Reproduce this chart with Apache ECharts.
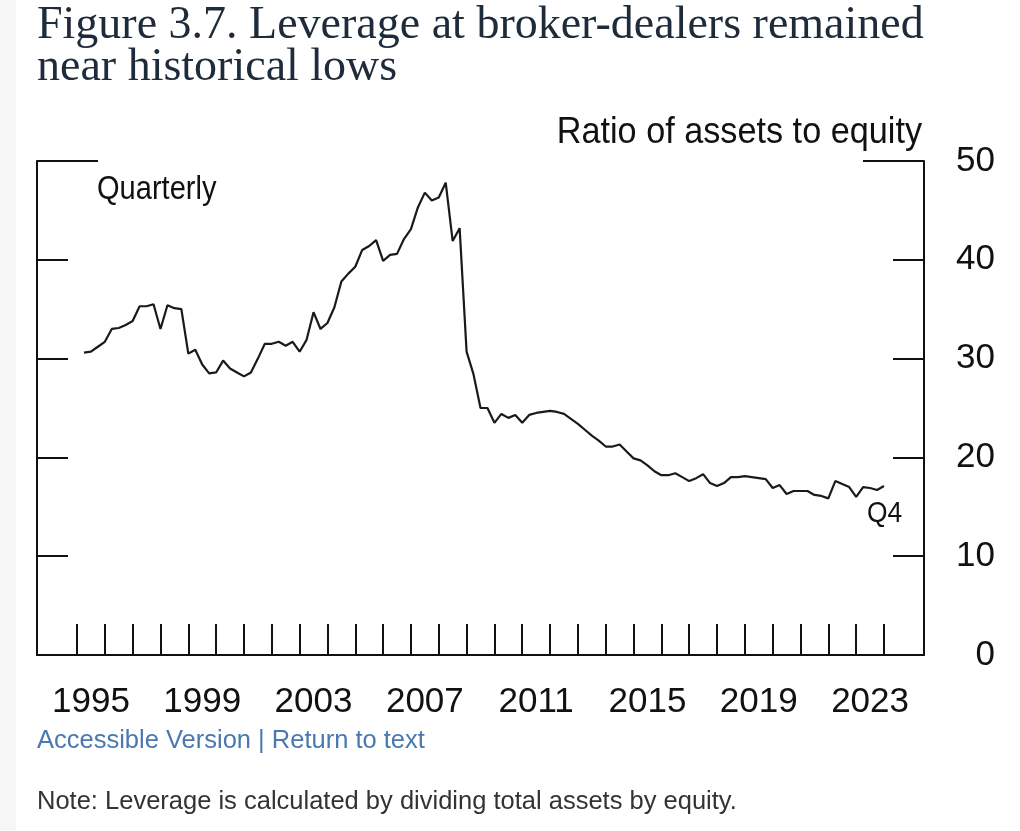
<!DOCTYPE html>
<html>
<head>
<meta charset="utf-8">
<script src="https://cdn.jsdelivr.net/npm/echarts@6/dist/echarts.min.js"></script>
<style>
html,body{margin:0;padding:0;background:#fff;}
#chart{width:1020px;height:831px;}
</style>
</head>
<body>
<div id="chart"></div>
<script>
// ---- data ----
const titleLines = ['Figure 3.7. Leverage at broker-dealers remained', 'near historical lows'];
const unitLabel = 'Ratio of assets to equity';
const freqLabel = 'Quarterly';
const endLabel = 'Q4';
const linksText = 'Accessible Version | Return to text';
const noteText = 'Note: Leverage is calculated by dividing total assets by equity.';

const firstYear = 1995;
const lastYear = 2023;
// quarterly leverage ratio, 1995 Q1 .. 2023 Q4
const leverage = [
  30.6, 30.7, 31.2, 31.7,   // 1995
  33.0, 33.1, 33.4, 33.8,   // 1996
  35.3, 35.3, 35.5, 33.0,   // 1997
  35.4, 35.1, 35.0, 30.5,   // 1998
  30.9, 29.4, 28.5, 28.6,   // 1999
  29.8, 29.0, 28.6, 28.2,   // 2000
  28.6, 30.0, 31.5, 31.5,   // 2001
  31.7, 31.3, 31.7, 30.7,   // 2002
  31.9, 34.7, 33.0, 33.6,   // 2003
  35.2, 37.8, 38.6, 39.3,   // 2004
  41.0, 41.4, 42.0, 39.9,   // 2005
  40.5, 40.6, 42.1, 43.1,   // 2006
  45.3, 46.8, 46.0, 46.3,   // 2007
  47.8, 41.9, 43.2, 30.7,   // 2008
  28.4, 25.0, 25.0, 23.5,   // 2009
  24.4, 24.0, 24.3, 23.5,   // 2010
  24.3, 24.5, 24.6, 24.7,   // 2011
  24.6, 24.4, 23.9, 23.4,   // 2012
  22.8, 22.2, 21.7, 21.1,   // 2013
  21.1, 21.3, 20.6, 19.9,   // 2014
  19.7, 19.2, 18.6, 18.2,   // 2015
  18.2, 18.4, 18.0, 17.6,   // 2016
  17.9, 18.3, 17.4, 17.1,   // 2017
  17.4, 18.0, 18.0, 18.1,   // 2018
  18.0, 17.9, 17.8, 16.9,   // 2019
  17.2, 16.3, 16.6, 16.6,   // 2020
  16.6, 16.2, 16.1, 15.85,  // 2021
  17.6, 17.3, 17.0, 16.0,   // 2022
  17.0, 16.9, 16.7, 17.1    // 2023
];
const yearTickValues = [1995,1996,1997,1998,1999,2000,2001,2002,2003,2004,2005,2006,2007,2008,2009,2010,2011,2012,2013,2014,2015,2016,2017,2018,2019,2020,2021,2022,2023,2024];
const yearLabels = ['1995','1999','2003','2007','2011','2015','2019','2023'];
const yTickLabels = ['0','10','20','30','40','50'];

// quarter-end dates
const quarterDates = [];
for (let y = firstYear; y <= lastYear; y++) {
  for (let q = 1; q <= 4; q++) quarterDates.push(y + q / 4);
}
const seriesData = leverage.map((v, i) => [quarterDates[i], v]);
const labelPositions = yearLabels.map(s => Number(s) + 0.5);

const chart = echarts.init(document.getElementById('chart'), null, {renderer: 'canvas'});
const INK = '#111';
const sans = '"Liberation Sans", Arial, sans-serif';

const yBase = {
  type: 'value', min: 0, max: 50, interval: 10,
  splitLine: {show: false},
  axisLine: {show: true, lineStyle: {color: INK, width: 2}},
  axisTick: {show: true, inside: true, length: 31, lineStyle: {color: INK, width: 2}},
  axisLabel: {show: false}
};

chart.setOption({
  animation: false,
  backgroundColor: '#fff',
  grid: {left: 37, right: 96, top: 161, bottom: 176, containLabel: false},
  xAxis: {
    type: 'value', min: 1993.5625, max: 2025.4375,
    splitLine: {show: false},
    axisLine: {show: true, lineStyle: {color: INK, width: 2}},
    axisTick: {show: true, inside: true, length: 31, customValues: yearTickValues, lineStyle: {color: INK, width: 2}},
    axisLabel: {
      show: true, customValues: labelPositions, margin: 30,
      fontFamily: sans, fontSize: 35, color: INK,
      formatter: v => yearLabels[labelPositions.indexOf(v)] || ''
    }
  },
  yAxis: [
    Object.assign({}, yBase, {position: 'right',
      axisLabel: {show: true, align: 'right', margin: 71, fontFamily: sans, fontSize: 35, color: INK,
        formatter: v => yTickLabels[Math.round(v / 10)]}}),
    Object.assign({}, yBase, {position: 'left'}),
    Object.assign({}, yBase, {position: 'right', interval: 50, axisLine: {show: false},
      axisTick: {show: true, inside: true, length: 61, lineStyle: {color: INK, width: 2}}}),
    Object.assign({}, yBase, {position: 'left', interval: 50, axisLine: {show: false},
      axisTick: {show: true, inside: true, length: 61, lineStyle: {color: INK, width: 2}}})
  ],
  series: [{
    type: 'line', yAxisIndex: 0, data: seriesData, showSymbol: false, symbol: 'none',
    lineStyle: {color: '#1a1a1a', width: 2.2}, z: 5
  }],
  graphic: [
    {type: 'rect', left: 0, top: 0, z: -10, shape: {width: 16, height: 831}, style: {fill: '#f6f6f6'}},
    {type: 'text', x: 37, y: 26, style: {text: titleLines[0], font: '46px "Liberation Serif", serif', fill: '#1d2b3a', verticalAlign: 'middle'}},
    {type: 'text', x: 37, y: 68, style: {text: titleLines[1], font: '46px "Liberation Serif", serif', fill: '#1d2b3a', verticalAlign: 'middle'}},
    {type: 'text', x: 922, y: 133, scaleX: 0.925, style: {text: unitLabel, font: '37px ' + sans, fill: INK, align: 'right', verticalAlign: 'middle'}},
    {type: 'text', x: 97, y: 190, scaleX: 0.88, style: {text: freqLabel, font: '33px ' + sans, fill: INK, verticalAlign: 'middle'}},
    {type: 'text', x: 867, y: 514, scaleX: 0.88, style: {text: endLabel, font: '30px ' + sans, fill: INK, verticalAlign: 'middle'}},
    {type: 'text', x: 37, y: 741, style: {text: linksText, font: '25.5px ' + sans, fill: '#4a78b0', verticalAlign: 'middle'}},
    {type: 'text', x: 37, y: 802, style: {text: noteText, font: '25.5px ' + sans, fill: '#333', verticalAlign: 'middle'}}
  ]
});
</script>
</body>
</html>
